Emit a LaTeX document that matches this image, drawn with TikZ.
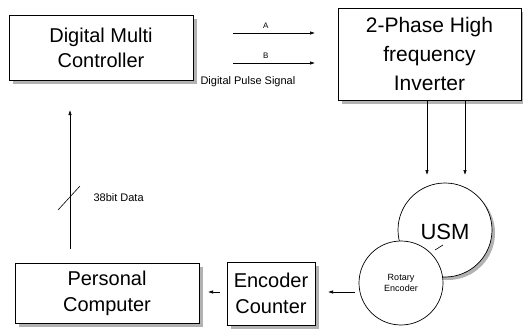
\documentclass[tikz,border=0pt]{standalone}
\usepackage{fontspec}
\setmainfont{Liberation Sans}
\usetikzlibrary{arrows.meta,backgrounds,calc}

\begin{document}
\begin{tikzpicture}[x=1pt,y=-1pt,
  block/.style={draw, line width=0.7pt, fill=white, align=center, inner sep=0pt},
  wheel/.style={draw, circle, line width=0.7pt, fill=white, inner sep=0pt},
  shade3/.style={fill=gray!60},
  sig/.style={line width=0.6pt, -{Latex[length=5pt,width=3.5pt]}}]
\useasboundingbox (0,0) rectangle (523,332);
% boxes
\node[block, minimum width=184pt, minimum height=65pt,
  font=\fontsize{20}{25}\selectfont] (dmc) at (101,47.5) {Digital Multi\\ Controller};
\node[block, minimum width=183pt, minimum height=92pt,
  font=\fontsize{21}{29}\selectfont] (inv) at (429.5,54) {2-Phase High\\ frequency\\ Inverter};
\node[block, minimum width=184pt, minimum height=60pt,
  font=\fontsize{20}{26}\selectfont] (pc) at (107,293) {Personal\\ Computer};
\node[block, minimum width=88pt, minimum height=63pt,
  font=\fontsize{20}{26}\selectfont] (enc) at (271,293.5) {Encoder\\ Counter};
% motor and encoder
\node[wheel, minimum size=94pt] (usm) at (445,230) {};
\node[font=\fontsize{22}{24}\selectfont] (usmtxt) at (445,232) {USM};
\node[wheel, minimum size=84pt, align=center, font=\fontsize{9}{11}\selectfont]
  (rot) at (401,283) {Rotary\\ Encoder};
\coordinate (lead1) at (435,250);
\coordinate (lead2) at (443,245);
\draw[line width=0.6pt] (lead1) -- (lead2);
% shadows behind boxes and motor
\begin{scope}[on background layer]
  \foreach \b in {dmc,inv,pc,enc} {
    \fill[shade3] ($(\b.north east)+(0,4)$) rectangle ($(\b.south east)+(4,4)$);
    \fill[shade3] ($(\b.south west)+(4,0)$) rectangle ($(\b.south east)+(4,4)$);
  }
  \fill[shade3] ($(usm.center)+(3,3)$) circle (47pt);
\end{scope}
% pulse signals
\coordinate (a1) at (233,33);  \coordinate (a2) at (315,33);
\coordinate (b1) at (233,63);  \coordinate (b2) at (315,63);
\draw[sig] (a1) -- (a2) node[pos=0.4, above=1pt, font=\fontsize{8}{9}\selectfont] (la) {A};
\draw[sig] (b1) -- (b2) node[pos=0.4, above=1pt, font=\fontsize{8}{9}\selectfont] (lb) {B};
\node[font=\fontsize{11}{12}\selectfont, anchor=west] (pulse) at (197,82) {Digital Pulse Signal};
% drive lines
\coordinate (d1) at (427,175);
\coordinate (d2) at (465,175);
\draw[sig] (inv.south -| d1) -- (d1);
\draw[sig] (inv.south -| d2) -- (d2);
% feedback
\coordinate (r1) at (355,292);
\coordinate (r2) at (328,292);
\draw[sig] (r1) -- (r2);
\coordinate (e1) at (220,292);
\coordinate (e2) at (208,292);
\draw[sig] (e1) -- (e2);
% data bus
\coordinate (p1) at (70,249);
\coordinate (p2) at (70,110);
\draw[sig] (p1) -- (p2);
\coordinate (s1) at (58,210);
\coordinate (s2) at (80,186);
\draw[line width=0.6pt] (s1) -- (s2);
\node[font=\fontsize{11}{12}\selectfont, anchor=west] (bus) at (90,198) {38bit Data};
\end{tikzpicture}
\end{document}
